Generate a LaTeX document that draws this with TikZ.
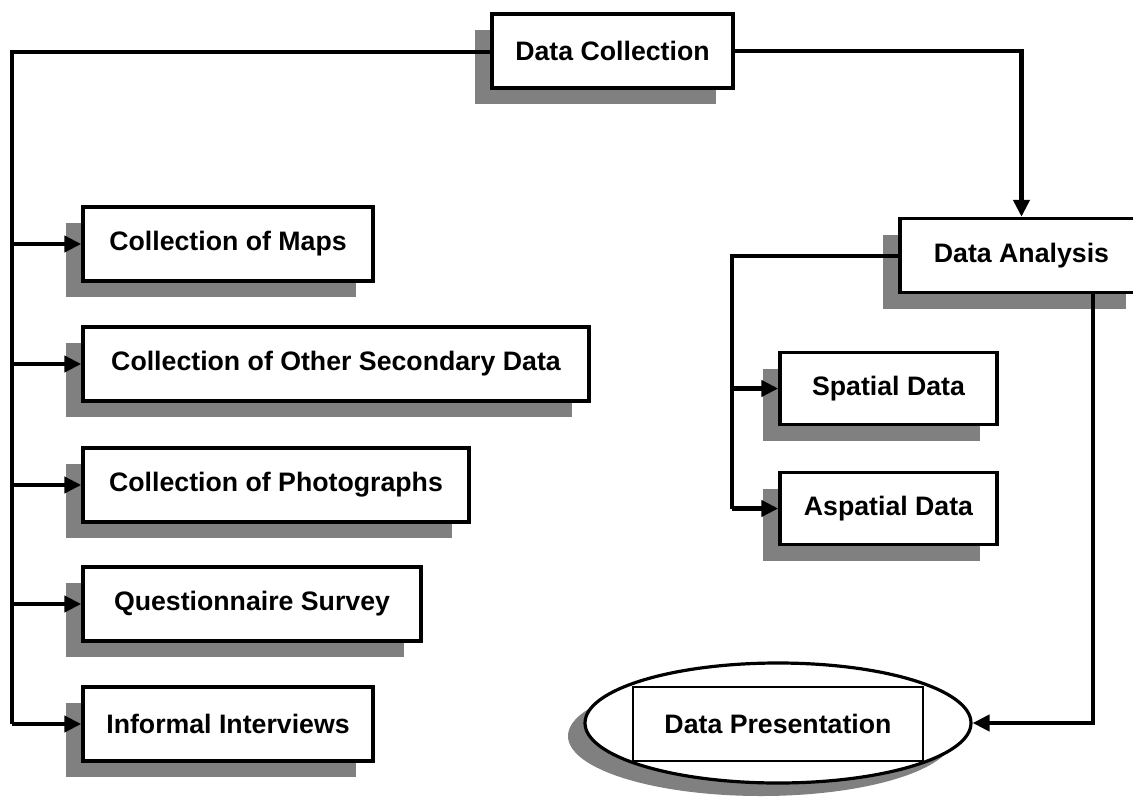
\documentclass[tikz,border=0pt]{standalone}
\usepackage{fontspec}
\setmainfont{Liberation Sans}
\usetikzlibrary{arrows.meta,shapes.geometric,shadows}
\definecolor{shade}{HTML}{808080}
\tikzset{
  box/.style={draw=black, line width=3.4pt, fill=white, rectangle, inner sep=0pt,
    minimum height=74pt, font=\fontsize{26.7}{32}\selectfont\bfseries,
    general shadow={fill=shade, shadow xshift=-17pt, shadow yshift=-16pt}},
  plainbox/.style={draw=black, line width=2.4pt, fill=white, rectangle, inner sep=0pt,
    minimum height=74pt, font=\fontsize{26.7}{32}\selectfont\bfseries},
  oval/.style={draw=black, line width=3.2pt, fill=white, ellipse, inner sep=0pt,
    general shadow={fill=shade, shadow xshift=-17pt, shadow yshift=-13pt}},
  conn/.style={line width=4.6pt, line join=miter},
  arr/.style={conn, -{Triangle[length=17pt,width=16pt]}}
}
\begin{document}
\begin{tikzpicture}[x=1pt,y=-1pt]
\useasboundingbox (0,0) rectangle (1133,796);
% nodes
\node[box, minimum width=241pt] (dc) at (612.5,51) {Data Collection};
\node[box, minimum width=243pt] (da) at (1021.5,255.5) {Data Analysis};
\node[box, minimum width=290pt] (maps) at (228,244) {Collection of Maps};
\node[box, minimum width=506pt] (sec) at (336,364) {Collection of Other Secondary Data};
\node[box, minimum width=386pt] (photo) at (276,485) {Collection of Photographs};
\node[box, minimum width=338pt] (quest) at (252,604) {Questionnaire Survey};
\node[box, minimum width=290pt] (inter) at (228,724) {Informal Interviews};
\node[box, minimum width=217pt, minimum height=72pt] (spat) at (888.5,388.5) {Spatial Data};
\node[box, minimum width=217pt, minimum height=72pt] (aspat) at (888.5,508.5) {Aspatial Data};
\node[oval, minimum width=386pt, minimum height=120pt] (pres) at (778,723) {};
\node[plainbox, minimum width=290pt] (presbox) at (778,724) {Data Presentation};
% helper coordinates
\coordinate (lt) at (12,52);
\coordinate (dl) at (732,256);
\coordinate (dbx) at (1093,0);
% left trunk
\draw[conn] (dc.west |- lt) -- (lt) -- (lt |- inter.west);
\foreach \n in {maps,sec,photo,quest,inter}
  \draw[arr] (lt |- \n.west) -- (\n.west);
% to analysis
\draw[arr] (dc.east) -| (da.north);
% analysis branches
\draw[conn] (da.west |- dl) -- (dl) -- (dl |- aspat.west);
\foreach \n in {spat,aspat}
  \draw[arr] (dl |- \n.west) -- (\n.west);
% to presentation
\draw[arr] (da.south -| dbx) |- (pres.east);
\end{tikzpicture}
\end{document}
